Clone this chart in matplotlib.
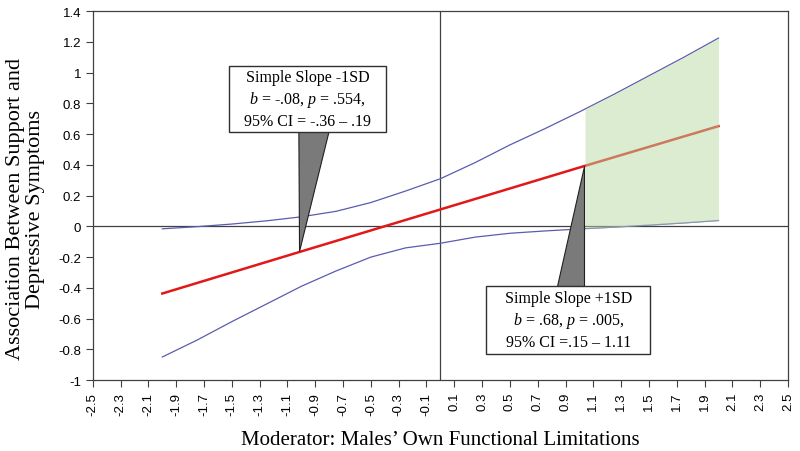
import numpy as np
import matplotlib
matplotlib.use("Agg")
import matplotlib.pyplot as plt
from matplotlib.patches import Rectangle, Polygon

# ..............................................................................
plt.rcParams["mathtext.fontset"] = "custom"
plt.rcParams["mathtext.rm"] = "Liberation Serif"
plt.rcParams["mathtext.it"] = "Liberation Serif:italic"

# ==============================================================================
# values
modX = [-2.0, -1.75, -1.5, -1.25, -1.0, -0.75, -0.5, -0.25, 0.0,
        0.25, 0.5, 0.75, 1.0, 1.25, 1.5, 1.75, 2.0]
upperCI = [-0.016, -0.002, 0.015, 0.036, 0.062, 0.098, 0.155, 0.23, 0.31,
           0.415, 0.53, 0.635, 0.745, 0.86, 0.98, 1.10, 1.225]
lowerCI = [-0.85, -0.74, -0.62, -0.505, -0.39, -0.29, -0.20, -0.14, -0.11,
           -0.07, -0.045, -0.03, -0.017, -0.005, 0.008, 0.022, 0.038]

slopeX = [-2.0, -1.0, 0.0, 1.0, 2.0]
slopeY = [-0.437, -0.163, 0.11, 0.383, 0.652]

# region of significance
regionX = [1.04, 1.25, 1.5, 1.75, 2.0]
regionLo = [-0.015, -0.005, 0.008, 0.022, 0.038]
regionHi = [0.765, 0.86, 0.98, 1.10, 1.225]

# simple slopes at -1SD / +1SD
ssX = [-1.013, 1.032]
ssY = [-0.163, 0.39]
ssText = ["Simple Slope -1SD\n$\\it{b}$ = -.08, $\\it{p}$ = .554,\n95% CI = -.36 \u2013 .19",
          "Simple Slope +1SD\n$\\it{b}$ = .68, $\\it{p}$ = .005,\n95% CI =.15 \u2013 1.11"]

xTicks = np.round(np.arange(-2.5, 2.51, 0.2), 1)
yTicks = np.round(np.arange(-1.0, 1.41, 0.2), 1)

# ==============================================================================
fig = plt.figure(figsize=(8, 4.52), dpi=100)
ax = fig.add_axes([0.116, 0.157, 0.869, 0.816])

ax.axhline(0, color="#404040", lw=0.9, zorder=1)
ax.axvline(0, color="#404040", lw=0.9, zorder=1)

ax.plot(modX, upperCI, color="#5b5bb0", lw=0.9, zorder=2)
ax.plot(modX, lowerCI, color="#5b5bb0", lw=0.9, zorder=2)
ax.plot(slopeX, slopeY, color="#e01818", lw=1.8, zorder=2)

ax.fill_between(regionX, regionLo, regionHi, color="#b9dba3", alpha=0.5,
                lw=0, zorder=3)

# ------------------------------------------------------------------------------
# callouts: box (x0, x1, y0, y1), wedge base (xa, xb, yb)
boxes = [(-1.52, -0.39, 0.612, 1.045), (0.33, 1.51, -0.83, -0.385)]
wedges = [(-1.018, -0.802, 0.612), (0.838, 1.032, -0.385)]
for i in range(2):
    x0, x1, y0, y1 = boxes[i]
    xa, xb, yb = wedges[i]
    ax.add_patch(Polygon([(xa, yb), (xb, yb), (ssX[i], ssY[i])], closed=True,
                         facecolor="#7a7a7a", edgecolor="#202020", lw=0.8, zorder=4))
    ax.add_patch(Rectangle((x0, y0), x1 - x0, y1 - y0, facecolor="white",
                           edgecolor="#303030", lw=1.0, zorder=5))
    ax.text((x0 + x1) / 2, (y0 + y1) / 2, ssText[i], ha="center", va="center",
            family="Liberation Serif", fontsize=11.5, linespacing=1.3, zorder=6)

# ------------------------------------------------------------------------------
def fmt(v):
    s = "%g" % v
    return "0" if s == "-0" else s

ax.set_xlim(-2.5, 2.5)
ax.set_ylim(-1.0, 1.4)
ax.set_xticks(xTicks)
ax.set_xticklabels([fmt(v) for v in xTicks], rotation=90,
                   family="Liberation Sans", fontsize=9.5)
ax.set_yticks(yTicks)
ax.set_yticklabels([fmt(v) for v in yTicks], family="Liberation Sans",
                   fontsize=9.5)
ax.tick_params(direction="out", length=5, width=0.8, color="#404040")
for s in ax.spines.values():
    s.set_color("#404040")
    s.set_linewidth(0.9)

ax.set_xlabel("Moderator: Males\u2019 Own Functional Limitations",
              family="Liberation Serif", fontsize=15, labelpad=11)
fig.text(0.032, 0.537, "Association Between Support and\nDepressive Symptoms",
         rotation=90, ha="center", va="center", family="Liberation Serif",
         fontsize=16, linespacing=1.05)

fig.savefig("out.png", dpi=100)
